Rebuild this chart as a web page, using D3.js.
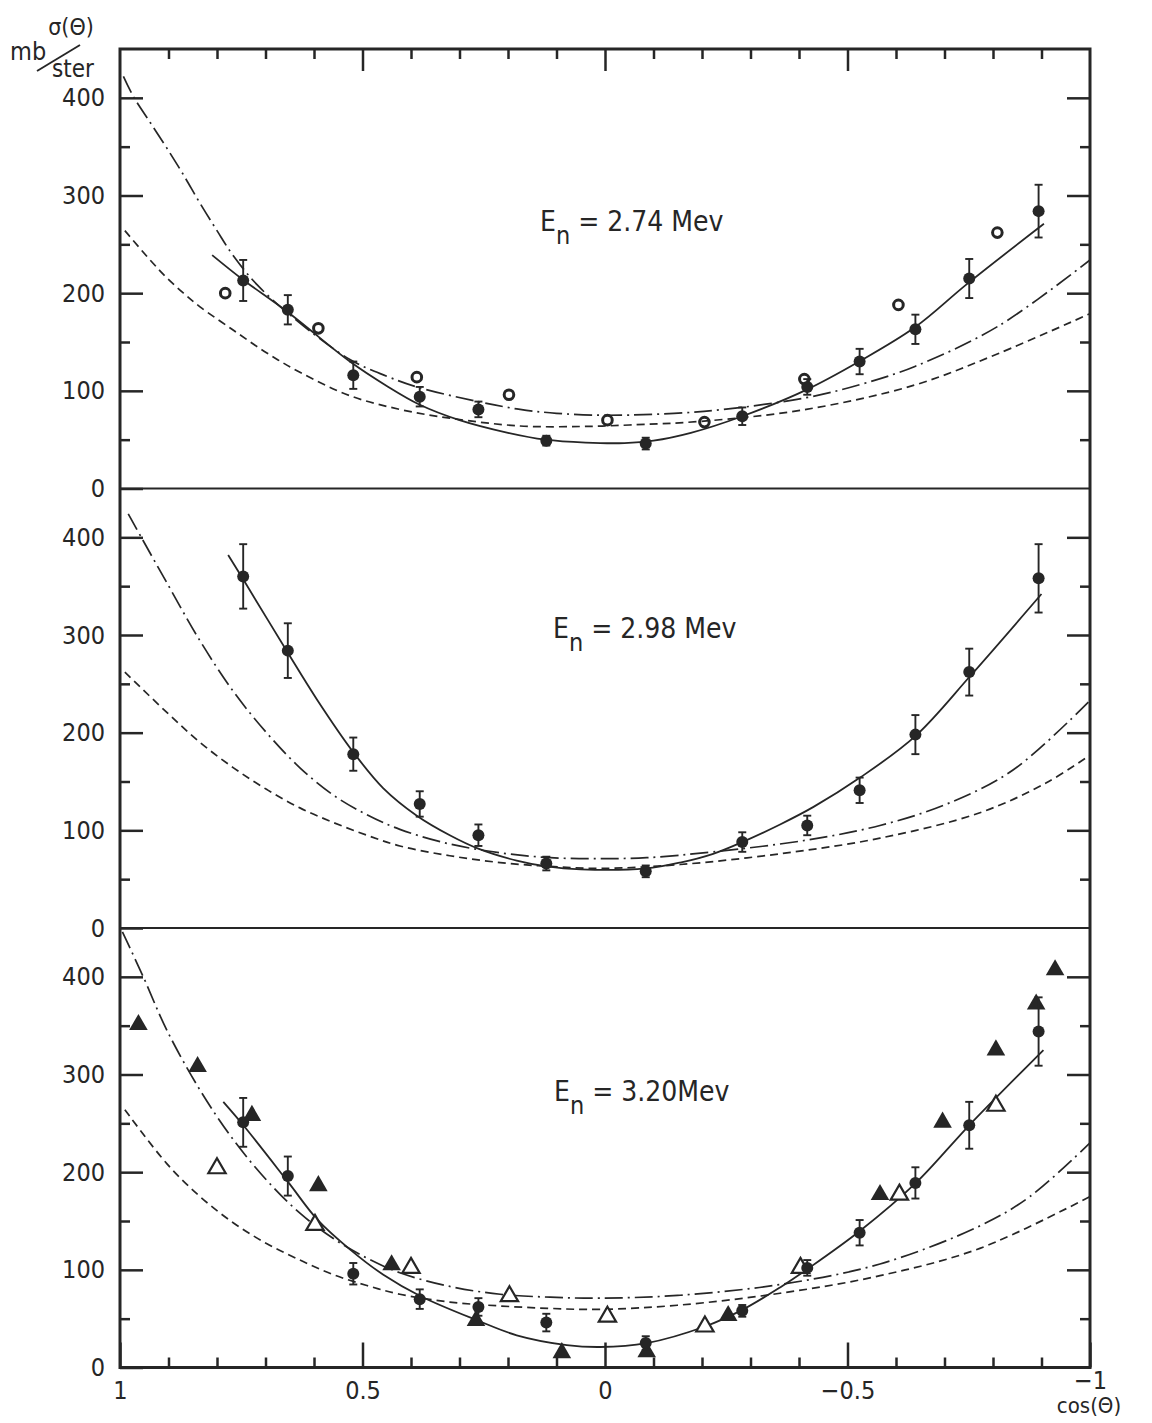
<!DOCTYPE html>
<html lang="en">
<head>
<meta charset="UTF-8" />
<script src="https://d3js.org/d3.v7.min.js"></script>
<title>sigma(theta) vs cos(theta)</title>
<style>
  body { margin: 0; background: #fff; }
</style>
</head>
<body>
<svg width="1152" height="1423"></svg>
<script>
// ---- data ----
const energies = ["2.74", "2.98", "3.20"];

// cos(theta) of the measured points (filled circles), same angles in each panel
const cosPts = [0.746, 0.654, 0.519, 0.382, 0.261, 0.121, -0.084, -0.283, -0.417, -0.525, -0.64, -0.751, -0.894];

const val274 = [213, 183, 116, 94, 81, 49, 46, 74, 104, 130, 163, 215, 284];
const err274 = [21, 15, 14, 10, 8, 5, 6, 9, 8, 13, 15, 20, 27];
const val298 = [360, 284, 178, 127, 95, 66, 58, 88, 105, 141, 198, 262, 358];
const err298 = [33, 28, 17, 13, 11, 7, 6, 10, 10, 13, 20, 24, 35];
const val320 = [251, 196, 96, 70, 62, 46, 25, 58, 102, 138, 189, 248, 344];
const err320 = [25, 20, 11, 10, 9, 9, 7, 6, 8, 13, 16, 24, 35];

// open circles, 2.74 MeV panel
const cosOpen274 = [0.783, 0.591, 0.388, 0.198, -0.005, -0.205, -0.411, -0.605, -0.809];
const valOpen274 = [200, 164, 114, 96, 70, 68, 112, 188, 262];

// filled triangles, 3.20 MeV panel
const cosTriF = [0.962, 0.84, 0.728, 0.591, 0.44, 0.266, 0.089, -0.086, -0.254, -0.567, -0.696, -0.806, -0.889, -0.928];
const valTriF = [351, 308, 258, 186, 105, 48, 15, 16, 53, 177, 251, 325, 372, 407];

// open triangles, 3.20 MeV panel
const cosTriO = [0.8, 0.598, 0.4, 0.197, -0.005, -0.206, -0.403, -0.607, -0.806];
const valTriO = [204, 146, 102, 73, 52, 42, 102, 177, 268];

// curves as [cos, sigma] samples
const solid274 = [[0.81,239],[0.747,214],[0.655,181],[0.526,130],[0.45,105],[0.383,86],[0.3,70],[0.2,57],[0.123,50],[0.04,47],[-0.04,46.5],[-0.1,49],[-0.177,57],[-0.283,74],[-0.415,101],[-0.524,130],[-0.639,165],[-0.748,210],[-0.905,271]];
const dashDot274 = [[0.993,422],[0.972,401],[0.938,375],[0.904,349],[0.869,321],[0.835,292],[0.8,264],[0.766,238],[0.718,209],[0.65,178],[0.526,132],[0.45,115],[0.388,104],[0.262,89],[0.175,81],[0.1,77],[-0.005,75],[-0.204,79],[-0.415,93],[-0.53,107],[-0.639,125],[-0.81,166],[-1,234]];
const dashed274 = [[0.99,264],[0.938,234],[0.904,216],[0.869,200],[0.835,186],[0.766,162],[0.698,139],[0.629,119],[0.526,95],[0.423,81],[0.32,72],[0.175,64],[0.05,63.5],[-0.05,65],[-0.204,69],[-0.415,81],[-0.639,106],[-0.81,138],[-1,179]];

const solid298 = [[0.777,382],[0.746,357],[0.653,281],[0.594,234],[0.519,180],[0.457,143],[0.388,115],[0.32,95],[0.26,81],[0.182,69],[0.12,63],[0.05,60],[-0.084,61],[-0.155,67],[-0.223,76],[-0.283,88],[-0.361,106],[-0.43,124],[-0.526,154],[-0.641,197],[-0.753,258],[-0.9,342]];
const dashDot298 = [[0.983,424],[0.955,399],[0.904,354],[0.835,294],[0.766,242],[0.698,200],[0.629,164],[0.56,136],[0.491,116],[0.423,101],[0.32,86],[0.216,77],[0.113,72],[0.01,71],[-0.086,72],[-0.223,78],[-0.416,90],[-0.567,105],[-0.705,127],[-0.842,162],[-1,233]];
const dashed298 = [[0.99,262],[0.904,221],[0.835,190],[0.766,164],[0.698,142],[0.629,123],[0.56,108],[0.491,95],[0.423,84],[0.32,74],[0.216,67],[0.113,63],[0.01,61],[-0.155,65],[-0.361,76],[-0.567,92],[-0.773,118],[-0.911,149],[-1,177]];

const solid320 = [[0.787,272],[0.744,247],[0.652,189],[0.594,152],[0.526,121],[0.457,95],[0.38,73],[0.262,48],[0.182,33],[0.079,23],[0.01,21],[-0.086,25],[-0.206,42],[-0.283,59],[-0.361,82],[-0.418,101],[-0.526,140],[-0.641,189],[-0.751,248],[-0.904,325]];
const dashDot320 = [[0.995,446],[0.952,400],[0.904,346],[0.835,284],[0.766,233],[0.698,192],[0.629,158],[0.56,132],[0.491,112],[0.423,97],[0.32,83],[0.216,75],[0.113,72],[0.01,71],[-0.155,74],[-0.361,85],[-0.567,106],[-0.773,145],[-0.876,175],[-1,230]];
const dashed320 = [[0.99,264],[0.904,209],[0.835,175],[0.766,148],[0.698,127],[0.629,110],[0.56,95],[0.491,84],[0.423,75],[0.32,67],[0.216,63],[0.113,60.5],[0.01,59.5],[-0.155,64],[-0.361,76],[-0.567,94],[-0.773,122],[-1,175]];

const yMajor = [0, 100, 200, 300, 400];
const yMinor = [50, 150, 250, 350];
const xMajor = [1, 0.5, 0, -0.5, -1];
const xMinor = d3.range(-9, 10).filter(k => k % 5 !== 0).map(k => k / 10);

// ---- layout ----
const svg = d3.select("svg");
const font = "'DejaVu Sans Condensed', 'DejaVu Sans', sans-serif";
const ink = "#262626";
const plotLeft = 120, plotRight = 1090, plotTop = 49, plotBottom = 1367.5;
const panelH = (plotBottom - plotTop) / 3;

const x = d3.scaleLinear().domain([1, -1]).range([plotLeft, plotRight]);

const panels = [
  { solid: solid274, dashDot: dashDot274, dashed: dashed274, val: val274, err: err274, labelX: 540, labelY: 231, text: " = " + energies[0] + " Mev" },
  { solid: solid298, dashDot: dashDot298, dashed: dashed298, val: val298, err: err298, labelX: 553, labelY: 638, text: " = " + energies[1] + " Mev" },
  { solid: solid320, dashDot: dashDot320, dashed: dashed320, val: val320, err: err320, labelX: 554, labelY: 1101, text: " = " + energies[2] + "Mev" }
];

function styleAxis(g) {
  g.select(".domain").remove();
  g.attr("font-family", font).attr("font-size", 25).attr("color", ink);
  g.selectAll("line").attr("stroke-width", 2.5);
}

panels.forEach((p, i) => {
  const y = d3.scaleLinear().domain([0, 450]).range([plotTop + panelH * (i + 1), plotTop + panelH * i]);
  const g = svg.append("g");

  // left axis: labelled major ticks and minor ticks, pointing inward
  g.append("g").attr("transform", `translate(${plotLeft},0)`)
    .call(d3.axisLeft(y).tickValues(yMajor).tickSize(-23).tickPadding(15).tickFormat(d3.format("d")))
    .call(styleAxis);
  g.append("g").attr("transform", `translate(${plotLeft},0)`)
    .call(d3.axisLeft(y).tickValues(yMinor).tickSize(-10).tickFormat(""))
    .call(styleAxis);
  // right axis
  g.append("g").attr("transform", `translate(${plotRight},0)`)
    .call(d3.axisRight(y).tickValues(yMajor.slice(1)).tickSize(-23).tickFormat(""))
    .call(styleAxis);
  g.append("g").attr("transform", `translate(${plotRight},0)`)
    .call(d3.axisRight(y).tickValues(yMinor).tickSize(-10).tickFormat(""))
    .call(styleAxis);

  const line = d3.line()
    .x(d => x(d[0]))
    .y(d => y(d[1]))
    .curve(d3.curveCatmullRom.alpha(0.5));

  g.append("path").attr("d", line(p.dashed))
    .attr("fill", "none").attr("stroke", ink).attr("stroke-width", 1.7)
    .attr("stroke-dasharray", "8,5");
  g.append("path").attr("d", line(p.dashDot))
    .attr("fill", "none").attr("stroke", ink).attr("stroke-width", 1.7)
    .attr("stroke-dasharray", "18,5,2,5");
  g.append("path").attr("d", line(p.solid))
    .attr("fill", "none").attr("stroke", ink).attr("stroke-width", 1.8);

  // open circles (top panel)
  if (i === 0) {
    g.selectAll(".open")
      .data(cosOpen274.map((c, k) => [c, valOpen274[k]]))
      .join("circle")
      .attr("cx", d => x(d[0])).attr("cy", d => y(d[1])).attr("r", 4.8)
      .attr("fill", "none").attr("stroke", ink).attr("stroke-width", 3);
  }

  // triangles (bottom panel)
  if (i === 2) {
    g.selectAll(".triO")
      .data(cosTriO.map((c, k) => [c, valTriO[k]]))
      .join("path")
      .attr("d", d3.symbol(d3.symbolTriangle, 130))
      .attr("transform", d => `translate(${x(d[0])},${y(d[1])})`)
      .attr("fill", "#fff").attr("stroke", ink).attr("stroke-width", 2.2);
    g.selectAll(".triF")
      .data(cosTriF.map((c, k) => [c, valTriF[k]]))
      .join("path")
      .attr("d", d3.symbol(d3.symbolTriangle, 150))
      .attr("transform", d => `translate(${x(d[0])},${y(d[1])})`)
      .attr("fill", ink);
  }

  // measured points with error bars
  const pts = cosPts.map((c, k) => ({ c, v: p.val[k], e: p.err[k] }));
  const eb = g.selectAll(".eb").data(pts).join("g");
  eb.append("line")
    .attr("x1", d => x(d.c)).attr("x2", d => x(d.c))
    .attr("y1", d => y(d.v - d.e)).attr("y2", d => y(d.v + d.e))
    .attr("stroke", ink).attr("stroke-width", 1.9);
  [-1, 1].forEach(s => {
    eb.append("line")
      .attr("x1", d => x(d.c) - 4).attr("x2", d => x(d.c) + 4)
      .attr("y1", d => y(d.v + s * d.e)).attr("y2", d => y(d.v + s * d.e))
      .attr("stroke", ink).attr("stroke-width", 1.9);
  });
  eb.append("circle")
    .attr("cx", d => x(d.c)).attr("cy", d => y(d.v)).attr("r", 6)
    .attr("fill", ink);

  // energy label
  const t = g.append("text")
    .attr("x", p.labelX).attr("y", p.labelY)
    .attr("font-family", font).attr("font-size", 28).attr("fill", ink);
  t.append("tspan").text("E");
  t.append("tspan").attr("dy", 13).attr("font-size", 25).text("n");
  t.append("tspan").attr("dy", -13).text(p.text);
});

// panel separators and frame
[1, 2].forEach(k => {
  svg.append("line")
    .attr("x1", plotLeft).attr("x2", plotRight)
    .attr("y1", plotTop + panelH * k).attr("y2", plotTop + panelH * k)
    .attr("stroke", ink).attr("stroke-width", 2.2);
});
svg.append("rect")
  .attr("x", plotLeft).attr("y", plotTop)
  .attr("width", plotRight - plotLeft).attr("height", plotBottom - plotTop)
  .attr("fill", "none").attr("stroke", ink).attr("stroke-width", 3);

// x axes (bottom labelled, top ticks only)
const xFmt = d => (d < 0 ? "\u2212" : "") + Math.abs(d);
const xb = svg.append("g").attr("transform", `translate(0,${plotBottom})`)
  .call(d3.axisBottom(x).tickValues(xMajor).tickSize(-25).tickPadding(14).tickFormat(xFmt))
  .call(styleAxis);
xb.selectAll(".tick").filter(d => d === -1).select("text").attr("dy", "0.3em");
svg.append("g").attr("transform", `translate(0,${plotBottom})`)
  .call(d3.axisBottom(x).tickValues(xMinor).tickSize(-10).tickFormat(""))
  .call(styleAxis);
svg.append("g").attr("transform", `translate(0,${plotTop})`)
  .call(d3.axisTop(x).tickValues(xMajor.slice(1, 4)).tickSize(-22).tickFormat(""))
  .call(styleAxis);
svg.append("g").attr("transform", `translate(0,${plotTop})`)
  .call(d3.axisTop(x).tickValues(xMinor).tickSize(-10).tickFormat(""))
  .call(styleAxis);

svg.append("text")
  .attr("x", 1089).attr("y", 1413)
  .attr("text-anchor", "middle")
  .attr("font-family", font).attr("font-size", 22).attr("fill", ink)
  .text("cos(\u0398)");

// y axis title
svg.append("text")
  .attr("x", 71).attr("y", 35)
  .attr("text-anchor", "middle")
  .attr("font-family", font).attr("font-size", 23).attr("fill", ink)
  .text("\u03c3(\u0398)");
svg.append("text")
  .attr("x", 10).attr("y", 60)
  .attr("font-family", font).attr("font-size", 25).attr("fill", ink)
  .text("mb");
svg.append("text")
  .attr("x", 52).attr("y", 77)
  .attr("font-family", font).attr("font-size", 24).attr("fill", ink)
  .text("ster");
svg.append("line")
  .attr("x1", 37).attr("y1", 71).attr("x2", 80).attr("y2", 45)
  .attr("stroke", ink).attr("stroke-width", 1.9);
</script>
</body>
</html>
